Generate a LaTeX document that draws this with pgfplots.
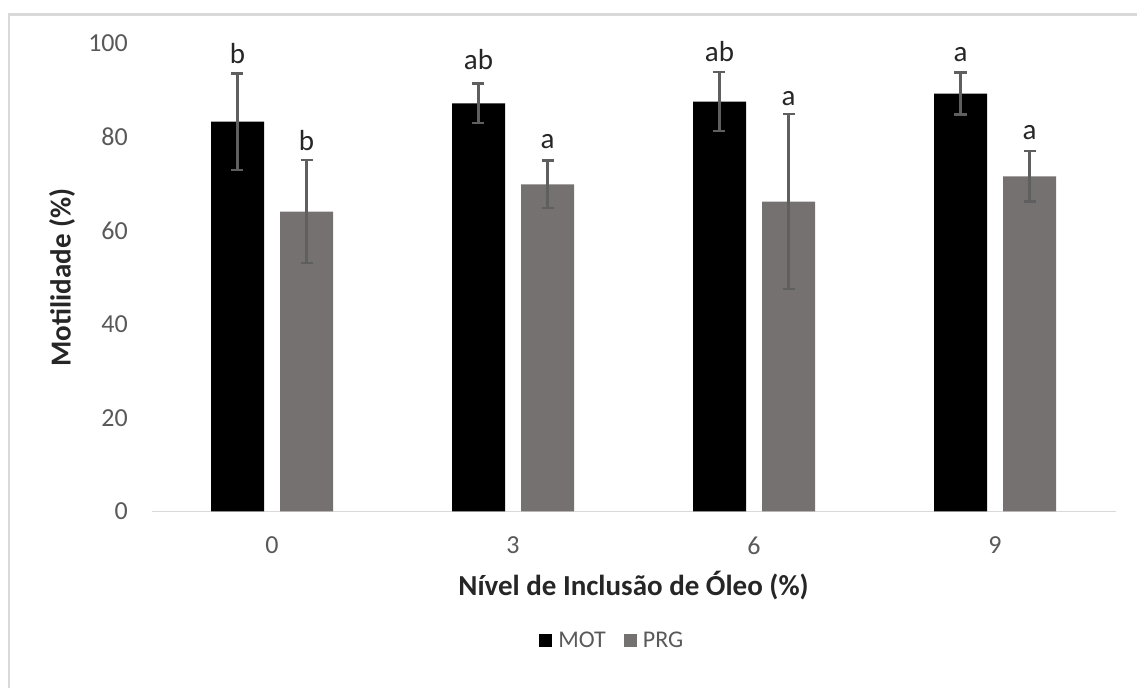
\documentclass[border=0pt]{standalone}
\usepackage{pgfplots}
\pgfplotsset{compat=1.18}
\usepackage{fontspec}
\setmainfont{Carlito}
\definecolor{prg}{HTML}{767171}
\definecolor{errg}{HTML}{5F5F5F}
\definecolor{tickg}{HTML}{595959}
\definecolor{titg}{HTML}{262626}
\definecolor{frameg}{HTML}{D9D9D9}
\pgfplotsset{
  errstyle/.style={draw=none, mark=none, forget plot,
    error bars/.cd, y dir=both, y explicit,
    error bar style={draw=errg, line width=2.5bp},
    error mark options={draw=errg, rotate=90, mark size=6bp, line width=2.5bp}}
}
\begin{document}
\begin{tikzpicture}
\path[use as bounding box] (0,0) rectangle (1137bp,688bp);
\draw[frameg, line width=2.5bp] (9bp,0) -- (9bp,673.5bp) -- (1137bp,673.5bp);
\begin{axis}[
  at={(151.5bp,176.5bp)}, anchor=south west,
  scale only axis, width=964bp, height=468bp,
  xmin=-0.5, xmax=3.5, ymin=0, ymax=100,
  axis x line*=bottom, axis y line*=left,
  x axis line style={frameg, line width=1.5bp, -},
  y axis line style={draw=none},
  xtick={0,1,2,3}, xticklabels={0,3,6,9},
  ytick={0,20,40,60,80,100},
  major tick length=0pt,
  /pgf/number format/assume math mode=true,
  xticklabel style={font=\fontsize{26bp}{31bp}\selectfont, text=tickg, anchor=center, inner sep=0pt, yshift=-34bp},
  yticklabel style={font=\fontsize{26bp}{31bp}\selectfont, text=tickg, anchor=east, inner sep=0pt, xshift=-23.5bp},
  xlabel={Nível de Inclusão de Óleo (\%)},
  ylabel={Motilidade (\%)},
  xlabel style={font=\bfseries\fontsize{29bp}{35bp}\selectfont, text=titg, at={(axis description cs:0.5,-0.158)}, anchor=center},
  ylabel style={font=\bfseries\fontsize{29bp}{35bp}\selectfont, text=titg, at={(axis description cs:-0.0928,0.5)}, anchor=center},
  legend style={at={(axis description cs:0.478,-0.2756)}, anchor=center, draw=none, fill=none,
    legend columns=2, font=\fontsize{24bp}{29bp}\selectfont, text=tickg,
    /tikz/every even column/.append style={column sep=16bp},
    cells={anchor=west, inner sep=2bp}},
  legend image code/.code={\fill[#1] (0bp,-6.5bp) rectangle (13bp,6.5bp); \path (17bp,0bp);},
  clip=false,
]
\addplot[ybar, bar width=53bp, bar shift=-34.5bp, fill=black, draw=none]
  table[x=x, y=y] {
x y
0 83.3
1 87.2
2 87.6
3 89.3
};
\addlegendentry{MOT}
\addplot[ybar, bar width=53bp, bar shift=34.5bp, fill=prg, draw=none]
  table[x=x, y=y] {
x y
0 64.1
1 69.9
2 66.2
3 71.6
};
\addlegendentry{PRG}
\addplot[errstyle] table[x=x, y=y, y error=e] {
x y e
-0.1432 83.3 10.3
0.8568 87.2 4.2
1.8568 87.6 6.3
2.8568 89.3 4.5
};
\addplot[errstyle] table[x=x, y=y, y error=e] {
x y e
0.1432 64.1 11.0
1.1432 69.9 5.1
2.1432 66.2 18.7
3.1432 71.6 5.4
};
\addplot[draw=none, mark=none, forget plot,
  nodes near coords, point meta=explicit symbolic,
  every node near coord/.append style={anchor=base, inner sep=0pt, font=\fontsize{29bp}{34bp}\selectfont, text=titg}]
  table[x=x, y=y, meta=l] {
x y l
-0.1432 95.7 b
0.8568 94.4 ab
1.8568 96.2 ab
2.8568 96.2 a
0.1432 77.1 b
1.1432 77.6 a
2.1432 86.8 a
3.1432 79.5 a
};
\end{axis}
\end{tikzpicture}
\end{document}
